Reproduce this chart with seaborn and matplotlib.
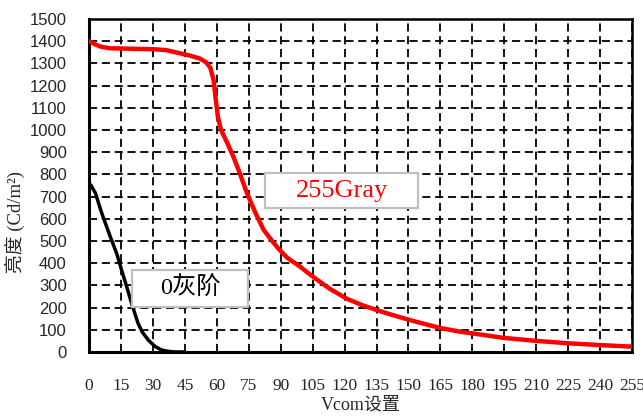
import numpy as np
import pandas as pd
import matplotlib
matplotlib.use('Agg')
import matplotlib.pyplot as plt
import matplotlib.patches as mpatches
import seaborn as sns

# ─── DATA ────────────────────────────────────────────────────────────────────
vcom_255 = [0, 3, 6, 10, 20, 30, 36, 42, 47, 52, 55, 57, 58.5, 59.5, 60.5, 62, 65, 68,
            71, 74, 78, 82, 86, 89, 93, 99, 105, 113, 121, 128, 135, 143, 151, 158,
            165, 175, 185, 195, 210, 225, 240, 255]
lum_255 = [1400, 1385, 1374, 1368, 1366, 1364, 1360, 1347, 1336, 1322, 1305, 1280, 1225,
           1140, 1060, 1000, 940, 875, 800, 720, 630, 550, 500, 465, 425, 385, 340, 285,
           240, 212, 189, 165, 143, 125, 108, 90, 77, 63, 50, 39, 31, 24]

vcom_0 = [0, 1, 3, 6, 10, 13, 15.3, 17.7, 20, 23, 25, 28, 31, 34, 37, 40, 45]
lum_0 = [760, 750, 716, 625, 519, 444, 369, 294, 219, 130, 90, 52, 25, 9, 3, 0, 0]

x_ticks = list(range(0, 256, 15))
y_ticks = list(range(0, 1501, 100))

label_255 = '255Gray'
label_0 = '0灰阶'
x_label = 'Vcom设置'
y_label = '亮度 (Cd/m²)'

df_255 = pd.DataFrame({'vcom': vcom_255, 'lum': lum_255})
df_0 = pd.DataFrame({'vcom': vcom_0, 'lum': lum_0})

# ─── STYLE ───────────────────────────────────────────────────────────────────
sns.set_style('white')
plt.rcParams['font.family'] = ['Liberation Sans', 'Noto Sans CJK SC', 'DejaVu Sans']
SERIF = ['Liberation Serif', 'Noto Sans CJK SC', 'DejaVu Sans']

fig = plt.figure(figsize=(6.43, 4.19), dpi=100)
ax = fig.add_axes([0.1384, 0.16, 0.8446, 0.7947])

sns.lineplot(data=df_255, x='vcom', y='lum', color='#ff0000', linewidth=3.2, ax=ax,
             zorder=4, sort=False)
sns.lineplot(data=df_0, x='vcom', y='lum', color='black', linewidth=2.5, ax=ax,
             zorder=4, sort=False)

ax.set_xlim(0, 255)
ax.set_ylim(0, 1500)
ax.set_xticks(x_ticks)
ax.set_yticks(y_ticks)
ax.grid(True, color='black', linestyle=(0, (4.5, 2.6)), linewidth=1.3)
ax.set_axisbelow(True)

ax.tick_params(axis='x', length=0, pad=19, labelsize=12.5)
ax.tick_params(axis='y', length=0, pad=16, labelsize=12)
for lbl in ax.get_xticklabels():
    lbl.set_family(SERIF)

for side in ['left', 'bottom']:
    ax.spines[side].set_linewidth(2.2)
    ax.spines[side].set_color('black')
for side in ['top', 'right']:
    ax.spines[side].set_linewidth(1.8)
    ax.spines[side].set_color('black')
    ax.spines[side].set_visible(True)

ax.set_xlabel(x_label, fontsize=13, family=SERIF, labelpad=2)
ax.set_ylabel(y_label, fontsize=13.5, family=SERIF)
ax.yaxis.set_label_coords(-0.118, 0.39)

# text boxes
box1 = mpatches.Rectangle((82.7, 648), 71.8, 158, facecolor='white', edgecolor='#bfbfbf',
                          linewidth=1.6, zorder=5)
ax.add_patch(box1)
ax.text(118.6, 727, label_255, color='#ff0000', fontsize=19, family=SERIF,
        ha='center', va='center', zorder=6)

box2 = mpatches.Rectangle((20, 203), 54.7, 166, facecolor='white', edgecolor='#bfbfbf',
                          linewidth=1.6, zorder=5)
ax.add_patch(box2)
ax.text(47.4, 286, label_0, color='black', fontsize=17.5, family=SERIF,
        ha='center', va='center', zorder=6)

plt.savefig('out.png', dpi=100)
